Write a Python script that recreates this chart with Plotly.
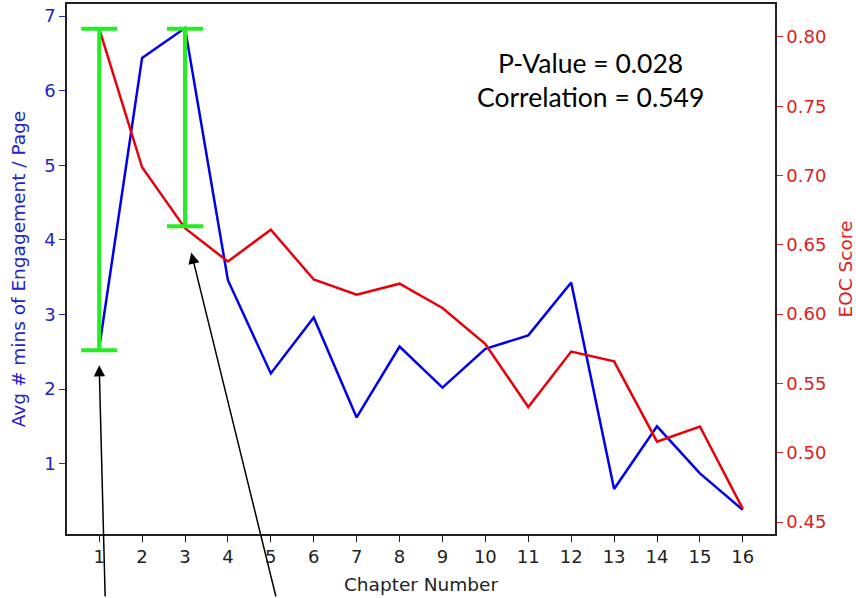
import plotly.graph_objects as go

# ---- data ----
chapters = list(range(1, 17))
engagement_mins = [2.55, 6.44, 6.84, 3.46, 2.21, 2.96, 1.62, 2.57, 2.02, 2.54, 2.72, 3.43, 0.66, 1.50, 0.87, 0.38]
eoc_score = [0.806, 0.706, 0.662, 0.638, 0.661, 0.625, 0.614, 0.622, 0.6045, 0.5785, 0.533, 0.573, 0.566, 0.508, 0.519, 0.4595]
x_ticks = chapters
left_ticks = [1, 2, 3, 4, 5, 6, 7]
right_ticks = [0.45, 0.50, 0.55, 0.60, 0.65, 0.70, 0.75, 0.80]

# green brackets (in EOC-score axis units)
bracket_x = [1, 3]
bracket_low = [0.574, 0.6635]
bracket_high = [0.806, 0.806]

# arrow tips (x in chapters, y in engagement units)
arrow_tip_x = [1.0, 3.146]
arrow_tip_y = [2.32, 3.83]
arrow_tail_dx = [6, 85]
arrow_tail_dy = [255, 368]

stats_text = "P-Value = 0.028<br>Correlation = 0.549"

BLUE = "#0000ee"
RED = "#e8000b"
TICK_BLUE = "#2323c8"
TICK_RED = "#dd2020"
FONT = "DejaVu Sans"
TS = 18      # tick font size
LS = 18.5    # axis label font size

fig = go.Figure()
fig.add_trace(go.Scatter(x=chapters, y=engagement_mins, mode="lines",
                         line=dict(color=BLUE, width=2.5), yaxis="y", showlegend=False))
fig.add_trace(go.Scatter(x=chapters, y=eoc_score, mode="lines",
                         line=dict(color=RED, width=2.5), yaxis="y2", showlegend=False))
fig.add_trace(go.Scatter(
    x=bracket_x, y=bracket_low, mode="markers", yaxis="y2",
    marker=dict(size=1, color="rgba(0,0,0,0)"), showlegend=False,
    error_y=dict(type="data", symmetric=False,
                 array=[h - l for h, l in zip(bracket_high, bracket_low)],
                 arrayminus=[0, 0], color="#22ee22", thickness=4, width=18)))

annotations = [dict(
    x=0.739, y=0.857, xref="paper", yref="paper", text=stats_text, showarrow=False,
    font=dict(family="Lato, sans-serif", size=26.5, color="black"),
    align="center", xanchor="center", yanchor="middle")]
for tx, ty, dx, dy in zip(arrow_tip_x, arrow_tip_y, arrow_tail_dx, arrow_tail_dy):
    annotations.append(dict(
        x=tx, y=ty, xref="x", yref="y", ax=dx, ay=dy, axref="pixel", ayref="pixel",
        text="", showarrow=True, arrowhead=2, arrowsize=1.5, arrowwidth=1.5,
        arrowcolor="black", standoff=0, startstandoff=0))

fig.update_layout(
    width=856, height=598,
    margin=dict(l=67, r=81, t=4, b=64, autoexpand=False),
    paper_bgcolor="white", plot_bgcolor="white",
    font=dict(family=FONT, size=TS, color="#222222"),
    xaxis=dict(range=[0.25, 16.75], tickvals=x_ticks, ticks="outside", ticklen=6,
               tickcolor="#222222", tickwidth=1.3, showgrid=False, zeroline=False,
               showline=True, linecolor="#222222", linewidth=1.5, mirror=True,
               automargin=False,
               tickfont=dict(family=FONT, size=TS, color="#222222"),
               title=dict(text="Chapter Number", font=dict(family=FONT, size=LS, color="#222222"),
                          standoff=12)),
    yaxis=dict(range=[0.057, 7.163], tickvals=left_ticks, ticks="outside", ticklen=6,
               tickcolor=TICK_BLUE, tickwidth=1.3, showgrid=False, zeroline=False,
               showline=True, linecolor="#222222", linewidth=1.5, automargin=False,
               tickfont=dict(family=FONT, size=TS, color=TICK_BLUE),
               title=dict(text="Avg # mins of Engagement / Page",
                          font=dict(family=FONT, size=LS, color=TICK_BLUE), standoff=14)),
    yaxis2=dict(range=[0.4414, 0.8238], tickvals=right_ticks, tickformat=".2f",
                overlaying="y", side="right", ticks="outside", ticklen=6,
                tickcolor=TICK_RED, tickwidth=1.3, showgrid=False, zeroline=False,
                showline=True, linecolor="#222222", linewidth=1.5, automargin=False,
                tickfont=dict(family=FONT, size=TS, color=TICK_RED),
                title=dict(text="EOC Score", font=dict(family=FONT, size=LS, color=TICK_RED),
                           standoff=15)),
    annotations=annotations,
)

fig.write_html("out.html", config={"displayModeBar": False},
               post_script="document.body.style.margin='0';")
